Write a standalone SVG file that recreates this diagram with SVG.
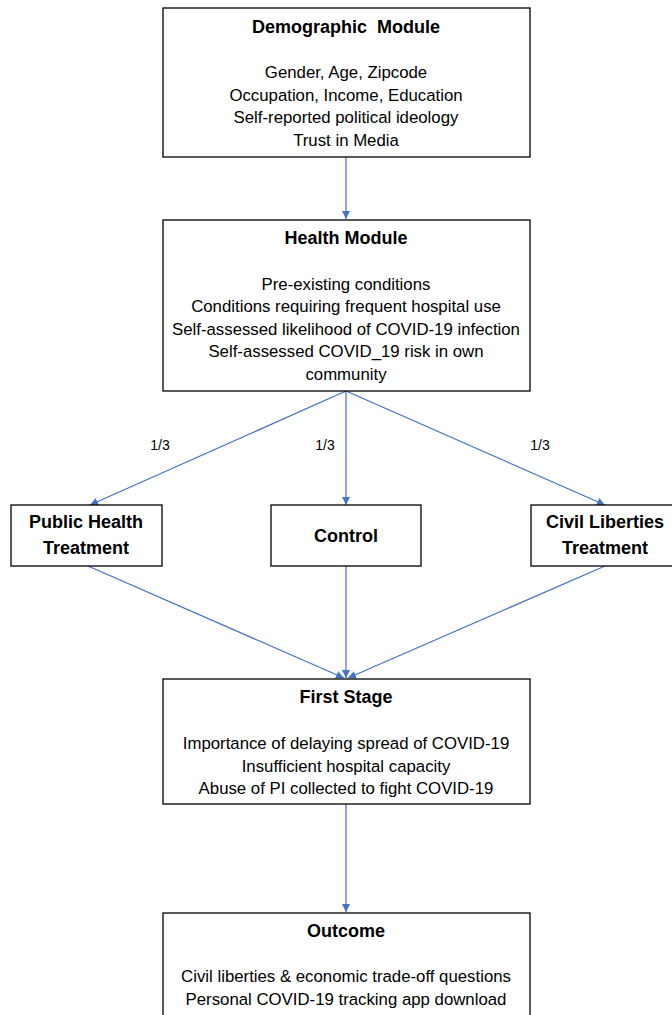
<svg xmlns="http://www.w3.org/2000/svg" width="672" height="1015" viewBox="0 0 672 1015">
<style>
.box{fill:#fff;stroke:#000;stroke-width:1.3}
.t{font-family:"Liberation Sans",Arial,sans-serif;font-size:18px;font-weight:bold;text-anchor:middle;fill:#000}
.b{font-family:"Liberation Sans",Arial,sans-serif;font-size:16.8px;text-anchor:middle;fill:#000}
.l{font-family:"Liberation Sans",Arial,sans-serif;font-size:14px;text-anchor:middle;fill:#000}
.c{stroke:#4472C4;stroke-width:1.2;fill:none;marker-end:url(#ah)}
</style>
<defs>
<marker id="ah" viewBox="0 0 10 10" refX="10" refY="5" markerWidth="8" markerHeight="8" markerUnits="userSpaceOnUse" orient="auto">
<path d="M0,0 L10,5 L0,10 z" fill="#4472C4"/>
</marker>
</defs>
<rect width="672" height="1015" fill="#fff"/>
<g id="connectors">
<line class="c" x1="346" y1="157" x2="346" y2="219"/>
<line class="c" x1="346" y1="391" x2="90" y2="505"/>
<line class="c" x1="346" y1="391" x2="346" y2="505"/>
<line class="c" x1="346" y1="391" x2="605" y2="505"/>
<line class="c" x1="88" y1="566" x2="344" y2="678"/>
<line class="c" x1="346" y1="566" x2="346" y2="678"/>
<line class="c" x1="605" y1="566" x2="348" y2="678"/>
<line class="c" x1="346" y1="804" x2="346" y2="912"/>
<text class="l" x="160" y="450">1/3</text>
<text class="l" x="325" y="450">1/3</text>
<text class="l" x="540" y="450">1/3</text>
</g>
<g id="demographic">
<rect class="box" x="163" y="8" width="367" height="149"/>
<text class="t" x="346" y="33" xml:space="preserve">Demographic  Module</text>
<text class="b" x="346" y="78">Gender, Age, Zipcode</text>
<text class="b" x="346" y="101">Occupation, Income, Education</text>
<text class="b" x="346" y="123">Self-reported political ideology</text>
<text class="b" x="346" y="146">Trust in Media</text>
</g>
<g id="health">
<rect class="box" x="163" y="220" width="367" height="171"/>
<text class="t" x="346" y="244">Health Module</text>
<text class="b" x="346" y="290">Pre-existing conditions</text>
<text class="b" x="346" y="312">Conditions requiring frequent hospital use</text>
<text class="b" x="346" y="335">Self-assessed likelihood of COVID-19 infection</text>
<text class="b" x="346" y="357">Self-assessed COVID_19 risk in own</text>
<text class="b" x="346" y="380">community</text>
</g>
<g id="public-health">
<rect class="box" x="11" y="505" width="151" height="61"/>
<text class="t" x="86" y="528">Public Health</text>
<text class="t" x="86" y="554">Treatment</text>
</g>
<g id="control">
<rect class="box" x="271" y="505" width="150" height="61"/>
<text class="t" x="346" y="542">Control</text>
</g>
<g id="civil-liberties">
<rect class="box" x="531" y="505" width="145" height="61"/>
<text class="t" x="605" y="528">Civil Liberties</text>
<text class="t" x="605" y="554">Treatment</text>
</g>
<g id="first-stage">
<rect class="box" x="163" y="679" width="367" height="125"/>
<text class="t" x="346" y="703">First Stage</text>
<text class="b" x="346" y="749">Importance of delaying spread of COVID-19</text>
<text class="b" x="346" y="772">Insufficient hospital capacity</text>
<text class="b" x="346" y="794">Abuse of PI collected to fight COVID-19</text>
</g>
<g id="outcome">
<rect class="box" x="163" y="913" width="367" height="110"/>
<text class="t" x="346" y="937">Outcome</text>
<text class="b" x="346" y="982">Civil liberties &amp; economic trade-off questions</text>
<text class="b" x="346" y="1005">Personal COVID-19 tracking app download</text>
</g>
</svg>
